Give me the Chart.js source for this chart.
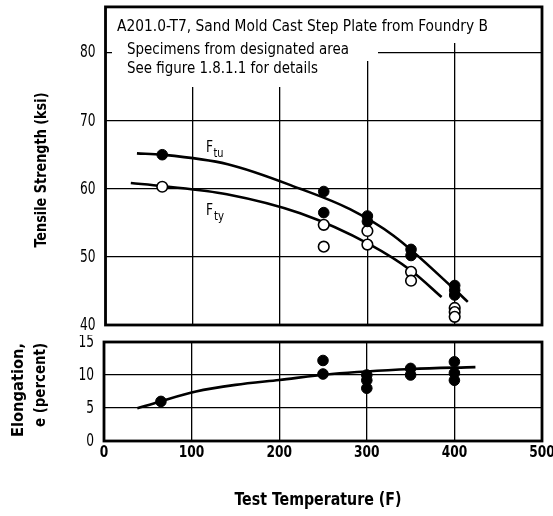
<!DOCTYPE html>
<html>
<head>
<meta charset="utf-8">
<script src="https://cdn.jsdelivr.net/npm/chart.js@4"></script>
<style>
html,body{margin:0;padding:0;background:#fff;}
#wrap{position:relative;width:553px;height:516px;overflow:hidden;background:#fff;}
#c1{position:absolute;left:0;top:0;}
#c2{position:absolute;left:0;top:335px;}
</style>
</head>
<body>
<div id="wrap">
<canvas id="c1" width="553" height="335"></canvas>
<canvas id="c2" width="553" height="181"></canvas>
</div>
<script>
const FONT = '"Liberation Sans Narrow", "DejaVu Sans Condensed", "Arial Narrow", sans-serif';

// ---- tick labels ----
const xTicks = [0, 100, 200, 300, 400, 500];
const strengthTicks = [40, 50, 60, 70, 80];
const elongTicks = [0, 5, 10, 15];

// ---- measured data (Test Temperature F) ----
const ftuTemps  = [65, 250, 250, 300, 300, 350, 350, 400, 400, 400];
const ftuValues = [65.0, 59.6, 56.5, 56.0, 55.2, 51.1, 50.2, 45.8, 45.1, 44.4];

const ftyTemps  = [65, 250, 250, 300, 300, 350, 350, 400, 400, 400];
const ftyValues = [60.3, 54.7, 51.5, 53.8, 51.8, 47.8, 46.5, 42.5, 41.9, 41.2];

const elongTemps  = [65, 250, 250, 300, 300, 300, 350, 350, 400, 400, 400];
const elongValues = [6.0, 12.2, 10.15, 10.0, 9.2, 8.0, 11.0, 10.0, 12.0, 10.3, 9.2];

// ---- fitted curves ----
const ftuCurveTemps  = [36, 65, 140, 223, 280, 330, 400, 415];
const ftuCurveValues = [65.2, 65.0, 63.6, 60.0, 57.0, 53.1, 45.2, 43.4];

const ftyCurveTemps  = [29, 65, 139, 223, 303, 351, 385];
const ftyCurveValues = [60.85, 60.4, 59.2, 56.4, 51.8, 47.9, 44.1];

const elongCurveTemps  = [38, 64, 105, 150, 200, 260, 351, 424];
const elongCurveValues = [4.95, 6.0, 7.5, 8.5, 9.25, 10.15, 10.9, 11.2];

// ---- text ----
const noteLines = [
  'A201.0-T7, Sand Mold Cast Step Plate from Foundry B',
  'Specimens from designated area',
  'See figure 1.8.1.1 for details'
];
const yTitleTop = 'Tensile Strength (ksi)';
const yTitleBottom = ['Elongation,', 'e (percent)'];
const xTitle = 'Test Temperature (F)';

const pts = (xs, ys) => xs.map((x, i) => ({x: x, y: ys[i]}));

function drawText(ctx, text, x, y, size, weight, opt) {
  opt = opt || {};
  ctx.save();
  ctx.font = weight + ' ' + size + 'px ' + FONT;
  const w = ctx.measureText(text).width;
  const sx = opt.width ? opt.width / w : (opt.sx || 1);
  ctx.translate(x, y);
  if (opt.rot) ctx.rotate(opt.rot);
  ctx.scale(sx, 1);
  ctx.textAlign = opt.align || 'left';
  ctx.textBaseline = opt.baseline || 'alphabetic';
  ctx.fillStyle = '#000';
  ctx.fillText(text, 0, 0);
  ctx.restore();
}

function noPad(s) { s.paddingTop = 0; s.paddingBottom = 0; s.paddingLeft = 0; s.paddingRight = 0; }

const framePlugin = {
  id: 'frame',
  afterDraw(chart) {
    const a = chart.chartArea, ctx = chart.ctx;
    ctx.save();
    ctx.strokeStyle = '#000';
    ctx.lineWidth = 2.8;
    ctx.strokeRect(a.left, a.top, a.right - a.left, a.bottom - a.top);
    ctx.restore();
  }
};

function drawYLabels(chart, ticks) {
  const ys = chart.scales.y, ctx = chart.ctx;
  ticks.forEach(v => {
    drawText(ctx, String(v), chart.chartArea.left - 10, ys.getPixelForValue(v) + 0.5, 17, 'normal',
      {sx: 0.8, align: 'right', baseline: 'middle'});
  });
}

const topTextPlugin = {
  id: 'topText',
  beforeDatasetsDraw(chart) {
    const ctx = chart.ctx;
    ctx.save();
    ctx.fillStyle = '#fff';
    ctx.fillRect(112, 7, 382, 36);
    ctx.fillRect(112, 43, 266, 18);
    ctx.fillRect(112, 61, 220, 26);
    ctx.restore();
    drawText(ctx, noteLines[0], 117, 31, 15, 'normal', {width: 371});
    drawText(ctx, noteLines[1], 127, 53.5, 15, 'normal', {width: 222});
    drawText(ctx, noteLines[2], 127, 73, 15, 'normal', {width: 191});
  },
  afterDraw(chart) {
    const ctx = chart.ctx;
    drawYLabels(chart, strengthTicks);
    // curve labels F_tu, F_ty
    drawText(ctx, 'F', 206, 152, 16, 'normal', {sx: 0.85});
    drawText(ctx, 'tu', 213.5, 157, 12.5, 'normal', {width: 10});
    drawText(ctx, 'F', 206, 215, 16, 'normal', {sx: 0.85});
    drawText(ctx, 'ty', 214, 220, 12.5, 'normal', {width: 10});
    // y title
    drawText(ctx, yTitleTop, 42, 170, 16, 'bold', {width: 155, align: 'center', baseline: 'middle', rot: -Math.PI / 2});
  }
};

const bottomTextPlugin = {
  id: 'bottomText',
  afterDraw(chart) {
    const ctx = chart.ctx;
    drawYLabels(chart, elongTicks);
    const xs = chart.scales.x;
    xTicks.forEach(v => {
      drawText(ctx, String(v), xs.getPixelForValue(v), chart.chartArea.bottom + 15.5, 16, 'bold',
        {sx: 0.85, align: 'center', baseline: 'alphabetic'});
    });
    drawText(ctx, yTitleBottom[0], 19, 55, 16, 'bold', {width: 94, align: 'center', baseline: 'middle', rot: -Math.PI / 2});
    drawText(ctx, yTitleBottom[1], 41, 50, 16, 'bold', {width: 84, align: 'center', baseline: 'middle', rot: -Math.PI / 2});
    drawText(ctx, xTitle, 318, 170, 18, 'bold', {width: 167, align: 'center'});
  }
};

const gridOpts = {color: '#000', lineWidth: 1.3, drawTicks: false};

function scatterSet(data, filled) {
  return {
    data: data, showLine: false,
    backgroundColor: filled ? '#000' : '#fff',
    borderColor: '#000',
    pointRadius: 5.3,
    pointBorderWidth: filled ? 1 : 1.6,
    order: 0
  };
}
function curveSet(data) {
  return {
    data: data, showLine: true, borderColor: '#000', borderWidth: 2.6,
    pointRadius: 0, cubicInterpolationMode: 'monotone', fill: false, order: 1
  };
}

function xScale(height) {
  return {
    type: 'linear', min: 0, max: 500,
    afterBuildTicks: s => { s.ticks = xTicks.map(v => ({value: v})); },
    ticks: {display: false},
    grid: gridOpts, border: {display: false},
    afterFit: s => { s.height = height; noPad(s); }
  };
}
function yScale(min, max, ticks, width) {
  return {
    type: 'linear', min: min, max: max,
    afterBuildTicks: s => { s.ticks = ticks.map(v => ({value: v})); },
    ticks: {display: false},
    grid: gridOpts, border: {display: false},
    afterFit: s => { s.width = width; noPad(s); }
  };
}

new Chart(document.getElementById('c1'), {
  type: 'scatter',
  data: {
    datasets: [
      scatterSet(pts(ftuTemps, ftuValues), true),
      scatterSet(pts(ftyTemps, ftyValues), false),
      curveSet(pts(ftuCurveTemps, ftuCurveValues)),
      curveSet(pts(ftyCurveTemps, ftyCurveValues))
    ]
  },
  options: {
    responsive: false, animation: false, events: [],
    layout: {padding: {left: 0, right: 11, top: 4, bottom: 0}},
    plugins: {legend: {display: false}, tooltip: {enabled: false}},
    scales: {
      x: xScale(10),
      y: yScale(40, 86.7, strengthTicks, 105.5)
    }
  },
  plugins: [topTextPlugin, framePlugin]
});

new Chart(document.getElementById('c2'), {
  type: 'scatter',
  data: {
    datasets: [
      scatterSet(pts(elongTemps, elongValues), true),
      curveSet(pts(elongCurveTemps, elongCurveValues))
    ]
  },
  options: {
    responsive: false, animation: false, events: [],
    layout: {padding: {left: 0, right: 11, top: 7, bottom: 0}},
    plugins: {legend: {display: false}, tooltip: {enabled: false}},
    scales: {
      x: xScale(75),
      y: yScale(0, 15, elongTicks, 104)
    }
  },
  plugins: [bottomTextPlugin, framePlugin]
});
</script>
</body>
</html>
